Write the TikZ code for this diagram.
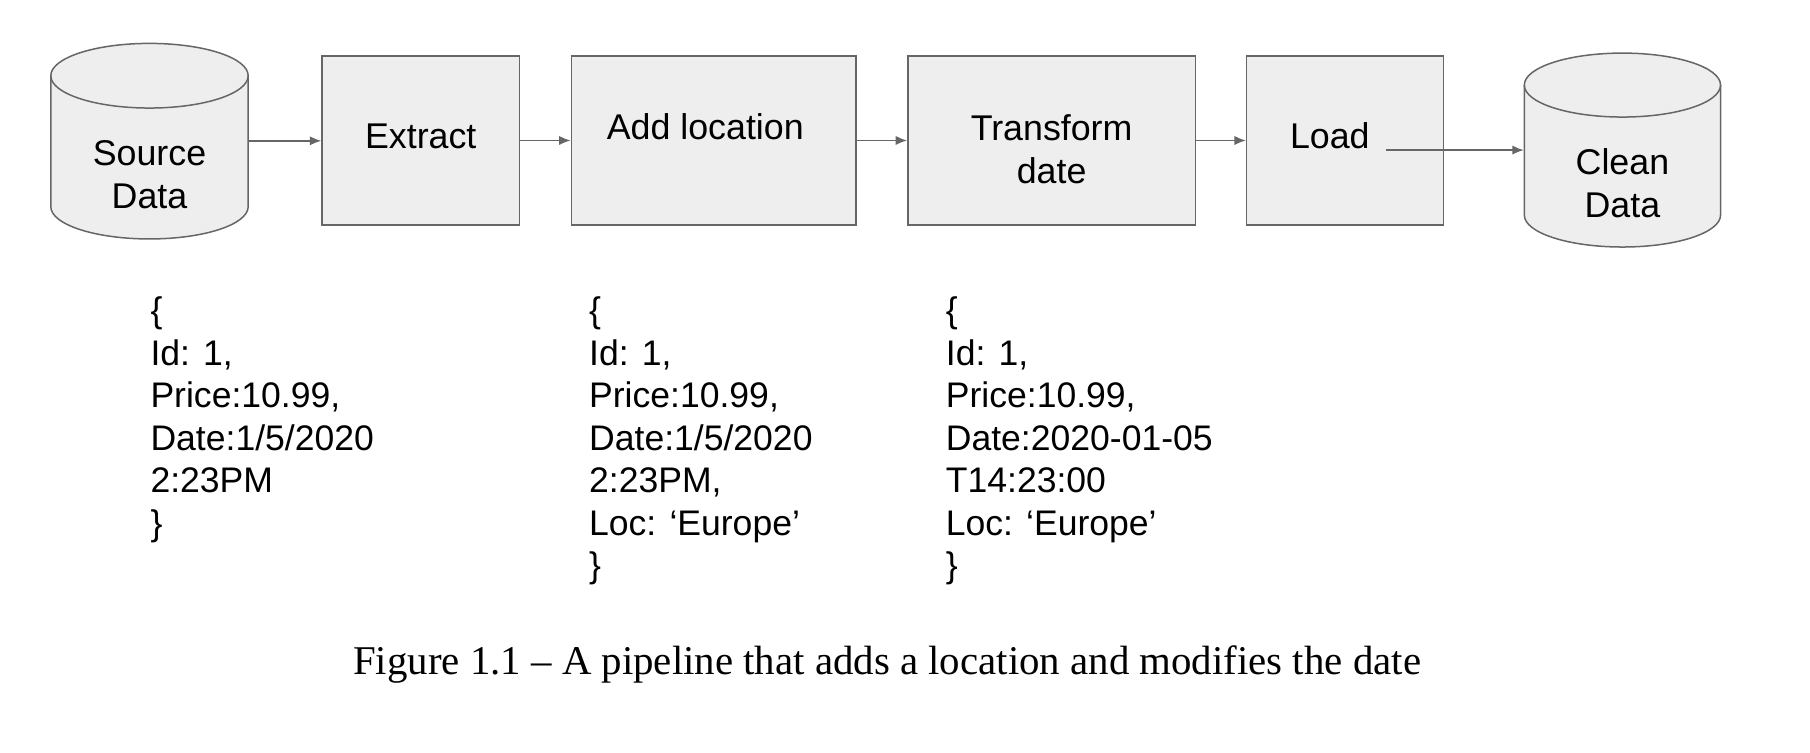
\documentclass[tikz,border=0pt]{standalone}
\usepackage{fontspec}
\setmainfont{Liberation Sans}
\newfontfamily\capfont{Liberation Serif}
\usetikzlibrary{arrows.meta}
\definecolor{boxfill}{HTML}{EEEEEE}
\definecolor{boxline}{HTML}{666666}
\begin{document}
\begin{tikzpicture}[x=0.5pt,y=0.5pt,
  stepbox/.style={draw=boxline,fill=boxfill,line width=0.65pt,inner sep=0,rectangle,minimum height=73.3pt},
  hold/.style={inner sep=0,rectangle,minimum height=20pt},
  lbl/.style={font=\fontsize{15.5}{18.5}\selectfont,align=center,inner sep=0},
  json/.style={font=\fontsize{15.4}{18.4}\selectfont,align=left,anchor=north west,inner sep=0},
  flow/.style={draw=boxline,line width=0.65pt,-{Latex[length=5pt,width=4pt]}},
  cyl/.style={draw=boxline,fill=boxfill,line width=0.65pt}]
\useasboundingbox (0,0) rectangle (1568,-651.5);
% source cylinder
\path[cyl] (44,-65.6) -- (44,-179) arc (180:360:85.5 and 28) -- (215,-65.6) arc (0:180:85.5 and 28) -- cycle;
\draw[cyl,fill=none] (44,-65.6) arc (180:360:85.5 and 28);
\node[hold,minimum width=85.5pt] (src) at (129.5,-122) {};
\node[lbl] (srcl) at (129.5,-151.3) {Source\\Data};
% clean cylinder
\path[cyl] (1320.5,-73.7) -- (1320.5,-186.3) arc (180:360:85 and 27.7) -- (1490.5,-73.7) arc (0:180:85 and 27.7) -- cycle;
\draw[cyl,fill=none] (1320.5,-73.7) arc (180:360:85 and 27.7);
\node[hold,minimum width=85pt] (cln) at (1405.5,-130) {};
\node[lbl] (clnl) at (1405.5,-158.5) {Clean\\Data};
% boxes
\node[stepbox,minimum width=85.5pt] (ext) at (364.5,-121.7) {};
\node[stepbox,minimum width=123.25pt] (add) at (618.25,-121.7) {};
\node[stepbox,minimum width=124.5pt] (trf) at (911,-121.7) {};
\node[stepbox,minimum width=85.25pt] (load) at (1165.25,-121.7) {};
\node[lbl] (extl) at (364.5,-118) {Extract};
\node[lbl] (addl) at (611,-110) {Add location};
\node[lbl] (trfl) at (911,-129.5) {Transform\\date};
\node[lbl] (loadl) at (1152,-118) {Load};
% connectors
\draw[flow] (src.east) -- (ext.west |- src.east);
\draw[flow] (ext.east) -- (add.west);
\draw[flow] (add.east) -- (trf.west);
\draw[flow] (trf.east) -- (load.west);
\coordinate (lo) at (1200.5,-130);
\draw[flow] (lo) -- (cln.west);
% json records
\node[json] (j1) at (130,-257) {\{\\Id: 1,\\Price:10.99,\\Date:1/5/2020\\2:23PM\\\}};
\node[json] (j2) at (510,-257) {\{\\Id: 1,\\Price:10.99,\\Date:1/5/2020\\2:23PM,\\Loc: ‘Europe’\\\}};
\node[json] (j3) at (819,-257) {\{\\Id: 1,\\Price:10.99,\\Date:2020-01-05\\T14:23:00\\Loc: ‘Europe’\\\}};
% caption
\node[font=\capfont\fontsize{17.7}{20}\selectfont,inner sep=0] (cap) at (768.5,-576) {Figure 1.1 – A pipeline that adds a location and modifies the date};
\end{tikzpicture}
\end{document}
